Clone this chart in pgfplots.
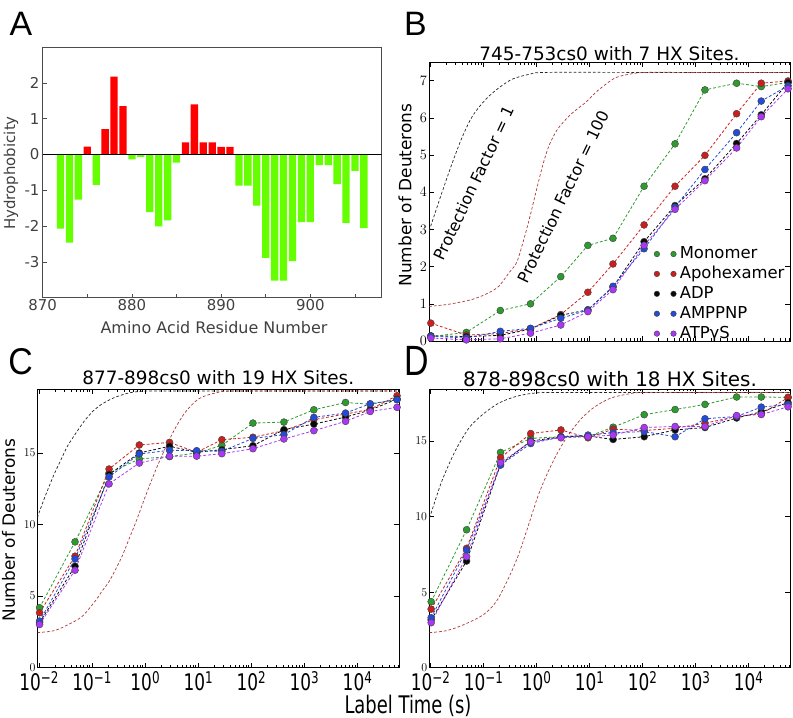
\documentclass[border=0pt]{standalone}
\usepackage{fontspec}
\setmainfont{DejaVu Sans}
\newfontfamily\helv{Liberation Sans}
\usepackage{graphicx}
\usepackage{pgfplots}
\pgfplotsset{compat=1.18}

\definecolor{barred}{RGB}{255,0,0}
\definecolor{bargreen}{RGB}{102,255,0}
\definecolor{cgreen}{RGB}{45,155,45}
\definecolor{cred}{RGB}{205,30,30}
\definecolor{cblk}{RGB}{10,10,10}
\definecolor{cblue}{RGB}{35,75,215}
\definecolor{cpur}{RGB}{170,55,245}
\definecolor{refred}{RGB}{175,55,55}

\newcommand{\fs}[1]{\fontsize{#1}{#1}\selectfont}
\newcommand{\tl}[1]{\scalebox{1}[1.35]{\fs{17}10\raisebox{5bp}{\fs{12}#1}}}

\tikzset{
  ser/.style={color=#1, line width=0.8bp, dash pattern=on 2.8bp off 2bp, mark=*, mark size=3.5bp, mark options={solid, fill=#1, draw=black!75, line width=0.4bp}},
  refk/.style={black!85, line width=0.7bp, dash pattern=on 2.8bp off 2bp},
  refr/.style={refred, line width=0.7bp, dash pattern=on 2.8bp off 2bp},
}

\begin{document}
\begin{tikzpicture}
\path[use as bounding box] (0,0) rectangle (793bp,718bp);

% ---------------- Panel A ----------------
\begin{axis}[
  at={(42.7bp,420.3bp)}, anchor=south west, scale only axis,
  width=339bp, height=250.7bp,
  xmin=870, xmax=908, ymin=-4, ymax=3,
  xtick={870,875,880,885,890,895,900,905},
  xticklabels={870,,880,,890,,900,},
  ytick={-3,-2,-1,0,1,2},
  yticklabels={-3,-2,-1,0,1,2},
  xtick pos=left, ytick pos=left,
  tick align=inside, major tick length=4bp,
  tick style={black!70, line width=0.5bp},
  axis line style={black!70, line width=0.7bp},
  ticklabel style={font=\fs{15}, text=black!75},
  xticklabel style={inner ysep=2bp},
  yticklabel style={inner xsep=3bp},
]
\addplot[ybar, bar width=0.82, bar shift=0pt, fill=barred, draw=none] coordinates {
(875,0.22) (877,0.71) (878,2.17) (879,1.35) (886,0.34) (887,1.40) (888,0.34) (889,0.34) (890,0.21) (891,0.21)};
\addplot[ybar, bar width=0.82, bar shift=0pt, fill=bargreen, draw=none] coordinates {
(872,-2.07) (873,-2.46) (874,-1.26) (876,-0.85) (880,-0.14) (881,-0.07) (882,-1.61) (883,-2.01) (884,-1.84) (885,-0.23) (892,-0.87) (893,-0.87) (894,-1.43) (895,-2.89) (896,-3.52) (897,-3.52) (898,-2.98) (899,-1.89) (900,-1.89) (901,-0.30) (902,-0.30) (903,-0.83) (904,-1.91) (905,-0.46) (906,-2.06)};
\addplot[black, line width=0.6bp] coordinates {(870,0) (908,0)};
\end{axis}
\node[font=\fs{15}, text=black!75, rotate=90] at (11bp,545bp) {Hydrophobicity};
\node[font=\fs{16}, text=black!75, anchor=base] at (214bp,384.7bp) {Amino Acid Residue Number};

% ---------------- Panel B ----------------
\begin{axis}[
  at={(429bp,377bp)}, anchor=south west, scale only axis, width=361bp, height=279bp,
  xmode=log, xmin=0.0095, xmax=61000,
  xtick={0.01,0.1,1,10,100,1000,10000},
  xticklabels={},
  minor xtick={0.02,0.03,0.04,0.05,0.06,0.07,0.08,0.09,0.2,0.3,0.4,0.5,0.6,0.7,0.8,0.9,2,3,4,5,6,7,8,9,20,30,40,50,60,70,80,90,200,300,400,500,600,700,800,900,2000,3000,4000,5000,6000,7000,8000,9000,20000,30000,40000,50000,60000},
  tick align=inside, major tick length=5bp, minor tick length=2.5bp,
  tick style={black, line width=0.5bp},
  axis line style={black, line width=0.7bp},
  ymin=0, ymax=7.5, ytick={0,1,2,3,4,5,6,7},
  yticklabel style={font=\fs{15}, inner xsep=2bp},
  legend style={draw=none, fill=none, at={(0.623,0.344)}, anchor=north west,
    font=\fs{16.5}, row sep=2.3bp, inner sep=0bp,
    /tikz/every odd column/.append style={column sep=2.5bp},
    nodes={inner xsep=1bp, inner ysep=0.8bp, text height=12.5bp, text depth=3.5bp}},
  legend cell align=left,
  legend image code/.code={\draw[#1, mark size=2.8bp] plot[only marks] coordinates {(0bp,0bp) (16.6bp,0bp)};},
]
\addplot[refk, smooth, forget plot] coordinates {(0.00955,2.96) (0.01585,3.9) (0.0263,4.8) (0.0407,5.5) (0.0631,6.05) (0.1122,6.5) (0.1995,6.81) (0.3548,7.04) (0.7413,7.17) (1.514,7.22) (100,7.22) (61000,7.22)};
\addplot[refr, smooth, forget plot] coordinates {(0.00955,0.93) (0.02291,0.99) (0.0631,1.12) (0.1288,1.30) (0.1995,1.48) (0.309,1.84) (0.4266,2.11) (0.5623,2.65) (0.7413,3.28) (0.9817,3.99) (1.318,4.71) (1.738,5.25) (2.512,5.69) (4.169,6.05) (6.457,6.28) (8.511,6.41) (13.18,6.68) (20.42,6.9) (31.62,7.08) (56.23,7.17) (114.8,7.22) (1000,7.22) (61000,7.22)};
\addplot[ser=cgreen] coordinates {(0.0103,0.12) (0.048,0.23) (0.21,0.82) (0.78,1.0) (2.9,1.73) (9.4,2.57) (28,2.76) (108,4.16) (414,5.30) (1517,6.75) (6000,6.93) (17500,6.84) (56000,6.95)};
\addlegendentry{Monomer}
\addplot[ser=cred] coordinates {(0.0103,0.48) (0.048,0.16) (0.21,0.2) (0.78,0.33) (2.9,0.71) (9.4,1.31) (28,2.07) (108,3.12) (414,4.16) (1517,4.99) (6000,6.11) (17500,6.93) (56000,6.99)};
\addlegendentry{Apohexamer}
\addplot[ser=cblk] coordinates {(0.0103,0.14) (0.048,0.12) (0.21,0.15) (0.78,0.32) (2.9,0.69) (9.4,0.84) (28,1.45) (108,2.67) (414,3.64) (1517,4.36) (6000,5.31) (17500,6.08) (56000,6.95)};
\addlegendentry{ADP}
\addplot[ser=cblue] coordinates {(0.0103,0.13) (0.048,0.08) (0.21,0.26) (0.78,0.34) (2.9,0.61) (9.4,0.83) (28,1.47) (108,2.48) (414,3.60) (1517,4.61) (6000,5.60) (17500,6.45) (56000,6.86)};
\addlegendentry{AMPPNP}
\addplot[ser=cpur] coordinates {(0.0103,0.08) (0.048,0.03) (0.21,0.06) (0.78,0.21) (2.9,0.43) (9.4,0.79) (28,1.38) (108,2.57) (414,3.54) (1517,4.31) (6000,5.19) (17500,6.03) (56000,6.78)};
\addlegendentry{ATPγS}
\end{axis}
\node[font=\fs{18.5}, anchor=base] at (609.5bp,657.3bp) {745-753cs0 with 7 HX Sites.};
\node[font=\fs{17}, rotate=90] at (405bp,523bp) {Number of Deuterons};
\node[font=\fs{16}, rotate=64.9] at (474.2bp,535bp) {Protection Factor = 1};
\node[font=\fs{16}, rotate=64.3] at (563.3bp,521.3bp) {Protection Factor = 100};

% ---------------- Panel C ----------------
\begin{axis}[
  at={(37.7bp,50.3bp)}, anchor=south west, scale only axis, width=361.3bp, height=278.4bp,
  xmode=log, xmin=0.0095, xmax=61000,
  xtick={0.01,0.1,1,10,100,1000,10000},
  xticklabels={\tl{−2},\tl{−1},\tl{0},\tl{1},\tl{2},\tl{3},\tl{4}},
  minor xtick={0.02,0.03,0.04,0.05,0.06,0.07,0.08,0.09,0.2,0.3,0.4,0.5,0.6,0.7,0.8,0.9,2,3,4,5,6,7,8,9,20,30,40,50,60,70,80,90,200,300,400,500,600,700,800,900,2000,3000,4000,5000,6000,7000,8000,9000,20000,30000,40000,50000,60000},
  tick align=inside, major tick length=5bp, minor tick length=2.5bp,
  tick style={black, line width=0.5bp},
  axis line style={black, line width=0.7bp},
  xticklabel style={inner ysep=4bp},
  ymin=0, ymax=19.45, ytick={0,5,10,15},
  yticklabel style={font=\fs{13}, inner xsep=2bp},
]
\addplot[refk, smooth, forget plot] coordinates {(0.00933,10.47) (0.01259,11.8) (0.01905,13.45) (0.02512,14.4) (0.03428,15.45) (0.05012,16.4) (0.07079,17.2) (0.1,17.85) (0.1445,18.35) (0.2239,18.75) (0.302,18.95) (0.5012,19.2) (0.7943,19.3) (1.585,19.33) (100,19.33) (61000,19.33)};
\addplot[refr, smooth, forget plot] coordinates {(0.00933,2.45) (0.01995,2.6) (0.03981,3.1) (0.06607,3.6) (0.1122,4.6) (0.1585,5.4) (0.2089,6.0) (0.2818,6.9) (0.3715,7.8) (0.5012,9.0) (0.6761,10.2) (1.023,12.0) (1.585,13.8) (2.455,15.4) (3.802,16.8) (5.888,17.9) (10.47,18.8) (21.38,19.2) (44.67,19.33) (1000,19.33) (61000,19.33)};
\addplot[ser=cgreen] coordinates {(0.0103,4.19) (0.048,8.79) (0.21,13.6) (0.78,14.58) (2.9,14.75) (9.4,15.0) (28,15.53) (108,17.09) (414,17.16) (1517,18.02) (6000,18.53) (17500,18.4) (56000,18.75)};
\addplot[ser=cred] coordinates {(0.0103,3.84) (0.048,7.79) (0.21,13.88) (0.78,15.56) (2.9,15.74) (9.4,15.05) (28,15.93) (108,16.1) (414,16.56) (1517,17.33) (6000,17.72) (17500,18.05) (56000,19.0)};
\addplot[ser=cblk] coordinates {(0.0103,3.14) (0.048,7.09) (0.21,13.5) (0.78,15.0) (2.9,15.47) (9.4,15.05) (28,15.23) (108,15.51) (414,16.63) (1517,17.02) (6000,17.51) (17500,18.0) (56000,18.77)};
\addplot[ser=cblue] coordinates {(0.0103,3.26) (0.048,7.6) (0.21,13.33) (0.78,14.93) (2.9,15.19) (9.4,15.16) (28,15.12) (108,16.02) (414,16.28) (1517,17.49) (6000,17.79) (17500,18.44) (56000,18.72)};
\addplot[ser=cpur] coordinates {(0.0103,3.02) (0.048,6.81) (0.21,12.84) (0.78,14.3) (2.9,14.77) (9.4,14.78) (28,14.95) (108,15.3) (414,15.98) (1517,16.56) (6000,17.21) (17500,17.9) (56000,18.19)};
\end{axis}
\node[font=\fs{18.5}, anchor=base] at (218.3bp,333bp) {877-898cs0 with 19 HX Sites.};
\node[font=\fs{17}, rotate=90] at (8.5bp,188bp) {Number of Deuterons};

% ---------------- Panel D ----------------
\begin{axis}[
  at={(429.3bp,50.3bp)}, anchor=south west, scale only axis, width=360.7bp, height=278.7bp,
  xmode=log, xmin=0.0095, xmax=61000,
  xtick={0.01,0.1,1,10,100,1000,10000},
  xticklabels={\tl{−2},\tl{−1},\tl{0},\tl{1},\tl{2},\tl{3},\tl{4}},
  minor xtick={0.02,0.03,0.04,0.05,0.06,0.07,0.08,0.09,0.2,0.3,0.4,0.5,0.6,0.7,0.8,0.9,2,3,4,5,6,7,8,9,20,30,40,50,60,70,80,90,200,300,400,500,600,700,800,900,2000,3000,4000,5000,6000,7000,8000,9000,20000,30000,40000,50000,60000},
  tick align=inside, major tick length=5bp, minor tick length=2.5bp,
  tick style={black, line width=0.5bp},
  axis line style={black, line width=0.7bp},
  xticklabel style={inner ysep=4bp},
  ymin=0, ymax=18.45, ytick={0,5,10,15},
  yticklabel style={font=\fs{13}, inner xsep=2bp},
]
\addplot[refk, smooth, forget plot] coordinates {(0.00955,9.9) (0.01023,10.21) (0.01622,12.31) (0.02884,14.3) (0.05248,15.84) (0.09333,16.72) (0.1905,17.5) (0.3981,17.94) (0.8128,18.16) (1.995,18.22) (100,18.22) (61000,18.22)};
\addplot[refr, smooth, forget plot] coordinates {(0.00955,2.32) (0.01995,2.45) (0.04121,2.83) (0.09772,3.49) (0.1738,4.37) (0.2951,5.91) (0.4571,7.46) (0.7079,9.44) (1.086,11.43) (1.66,12.97) (2.57,14.3) (3.981,15.4) (7.079,16.5) (12.59,17.27) (24.55,17.83) (50.12,18.1) (100,18.22) (1000,18.22) (61000,18.22)};
\addplot[ser=cgreen] coordinates {(0.0103,4.37) (0.048,9.13) (0.21,14.25) (0.78,15.18) (2.9,15.29) (9.4,15.3) (28,15.92) (108,16.75) (414,17.09) (1517,17.43) (6000,17.92) (17500,17.92) (56000,17.9)};
\addplot[ser=cred] coordinates {(0.0103,3.88) (0.048,7.9) (0.21,13.9) (0.78,15.5) (2.9,15.74) (9.4,15.22) (28,15.79) (108,15.7) (414,15.85) (1517,16.19) (6000,16.63) (17500,16.8) (56000,17.88)};
\addplot[ser=cblk] coordinates {(0.0103,3.16) (0.048,7.06) (0.21,13.46) (0.78,15.0) (2.9,15.29) (9.4,15.34) (28,15.11) (108,15.29) (414,15.74) (1517,15.9) (6000,16.53) (17500,16.94) (56000,17.55)};
\addplot[ser=cblue] coordinates {(0.0103,3.31) (0.048,7.79) (0.21,13.41) (0.78,14.84) (2.9,15.29) (9.4,15.4) (28,15.56) (108,15.63) (414,15.29) (1517,16.48) (6000,16.63) (17500,17.25) (56000,17.43)};
\addplot[ser=cpur] coordinates {(0.0103,2.98) (0.048,7.35) (0.21,13.57) (0.78,14.95) (2.9,15.22) (9.4,15.29) (28,15.4) (108,15.9) (414,15.97) (1517,15.97) (6000,16.69) (17500,16.76) (56000,17.27)};
\end{axis}
\node[font=\fs{20}, anchor=base] at (610bp,331.3bp) {878-898cs0 with 18 HX Sites.};

\node[anchor=base] at (408bp,5bp) {\scalebox{1}[1.35]{\fs{18}Label Time (s)}};

% panel letters
\node[font=\helv\fs{34}] at (21bp,694.5bp) {A};
\node[font=\helv\fs{34}] at (415.5bp,694.5bp) {B};
\node at (20.5bp,356bp) {\scalebox{1}[1.1]{\helv\fs{34}C}};
\node at (417bp,357bp) {\scalebox{1}[1.25]{\helv\fs{34}D}};
\end{tikzpicture}
\end{document}
